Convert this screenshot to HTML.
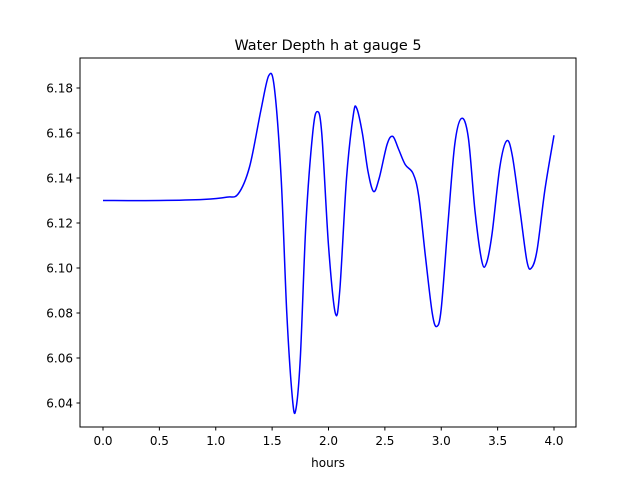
<!DOCTYPE html>
<html><head><meta charset="utf-8"><style>
body{margin:0;background:#fff;}
text{font-family:"DejaVu Sans","Liberation Sans",sans-serif;fill:#000;}
</style></head><body>
<svg id="chart" width="640" height="480" xmlns="http://www.w3.org/2000/svg">
<rect width="640" height="480" fill="#fff"/>
<text x="328" y="50" font-size="14.4" text-anchor="middle">Water Depth h at gauge 5</text>
<g id="plot"></g>
<rect x="80" y="58" width="496" height="369" fill="none" stroke="#000" stroke-width="1"/>
<text x="328" y="467" font-size="12" text-anchor="middle">hours</text>
</svg>
<script>
const times=[0,0.5,0.9,1.1,1.2,1.3,1.4,1.47,1.52,1.58,1.63,1.68,1.71,1.75,1.8,1.86,1.9,1.94,2.0,2.06,2.1,2.16,2.22,2.25,2.3,2.35,2.4,2.45,2.52,2.57,2.62,2.68,2.75,2.8,2.86,2.92,2.96,3.0,3.06,3.12,3.18,3.24,3.3,3.36,3.4,3.45,3.52,3.58,3.63,3.7,3.76,3.8,3.85,3.92,4.0];
const depth=[6.130,6.130,6.1305,6.1315,6.133,6.145,6.170,6.1855,6.180,6.140,6.080,6.042,6.037,6.060,6.120,6.160,6.1695,6.160,6.110,6.080,6.090,6.140,6.168,6.171,6.160,6.143,6.134,6.140,6.155,6.1585,6.153,6.146,6.142,6.132,6.105,6.080,6.074,6.082,6.120,6.155,6.1665,6.158,6.125,6.103,6.102,6.115,6.145,6.1565,6.150,6.125,6.103,6.100,6.108,6.135,6.159];
const xTicks=[0,0.5,1,1.5,2,2.5,3,3.5,4];
const xTickLabels=["0.0","0.5","1.0","1.5","2.0","2.5","3.0","3.5","4.0"];
const yTicks=[6.04,6.06,6.08,6.10,6.12,6.14,6.16,6.18];
const yTickLabels=["6.04","6.06","6.08","6.10","6.12","6.14","6.16","6.18"];
const NS="http://www.w3.org/2000/svg";
const sx=v=>103+v*112.75;
const sy=v=>88+(6.18-v)/0.02*45;
const g=document.getElementById('plot');
function mk(t,a){const e=document.createElementNS(NS,t);for(const k in a)e.setAttribute(k,a[k]);g.appendChild(e);return e;}
xTicks.forEach((t,i)=>{
 const l=mk('line',{x1:sx(t),x2:sx(t),y1:427,y2:430.5,stroke:'#000'});
 
 
 const tx=mk('text',{x:sx(t),y:445,'font-size':12,'text-anchor':'middle'});
 tx.textContent=xTickLabels[i];
 
 
});
yTicks.forEach((t,i)=>{
 const l=mk('line',{x1:76.5,x2:80,y1:sy(t),y2:sy(t),stroke:'#000'});
 
 
 const tx=mk('text',{x:73,y:sy(t)+4.5,'font-size':12,'text-anchor':'end'});
 tx.textContent=yTickLabels[i];
 
 
});
const P=times.map((t,i)=>[sx(t),sy(depth[i])]);
let d='M'+P[0][0]+','+P[0][1];
for(let i=0;i<P.length-1;i++){
 const p0=P[Math.max(0,i-1)],p1=P[i],p2=P[i+1],p3=P[Math.min(P.length-1,i+2)];
 const c1=[p1[0]+(p2[0]-p0[0])/6,p1[1]+(p2[1]-p0[1])/6];
 const c2=[p2[0]-(p3[0]-p1[0])/6,p2[1]-(p3[1]-p1[1])/6];
 d+=`C${c1[0]},${c1[1]} ${c2[0]},${c2[1]} ${p2[0]},${p2[1]}`;
}
const line=mk('path',{d:d,fill:'none',stroke:'#0000ff','stroke-width':1.5});


</script>
</body></html>
